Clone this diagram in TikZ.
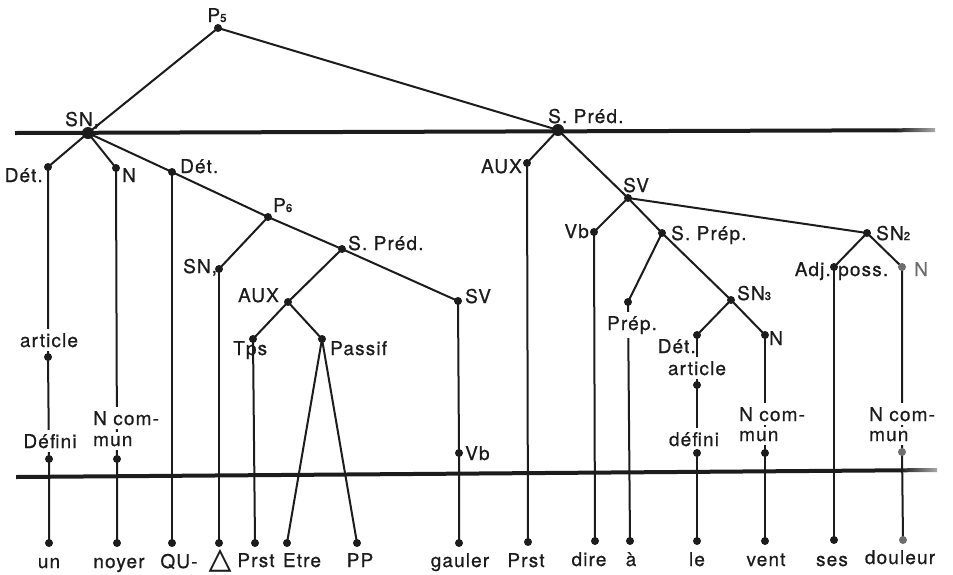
\documentclass[tikz,border=0pt]{standalone}
\usepackage{fontspec}
\setmainfont[LetterSpace=6, FakeBold=0.7]{TeX Gyre Heros}
\newfontfamily\symfont[FakeBold=0.7]{DejaVu Sans}
\definecolor{ink}{HTML}{1C1C1C}
\definecolor{pale}{HTML}{6E6E6E}
\newcommand\sub[1]{{\fontsize{11.5}{11.5}\selectfont #1}}
\begin{document}
\begin{tikzpicture}[x=1pt,y=-1pt,
  stem/.style={draw=ink, line width=2pt},
  lbl/.style={anchor=base, inner sep=0pt, font=\fontsize{19}{20}\selectfont, text=ink},
  gap/.style={lbl, fill=white, inner xsep=1pt, inner ysep=4pt},
]
\useasboundingbox[fill=white] (0,0) rectangle (953,574);

% the two level bars
\fill[ink] (15,131) -- (895,128.3) -- (895,132.3) -- (15,135) -- cycle;
\shade[left color=ink, right color=pale!60] (895,128.3) -- (935,128) -- (935,132) -- (895,132.3) -- cycle;
\fill[ink] (16,475) -- (900,468.3) -- (900,472.3) -- (16,479) -- cycle;
\shade[left color=ink, right color=pale!60] (900,468.3) -- (937,468) -- (937,472) -- (900,472.3) -- cycle;

% tree points
\coordinate (p5) at (218,28);
\coordinate (sn) at (88,133);
\coordinate (spa) at (558,130);
\coordinate (detA) at (48,167);
\coordinate (nA) at (116,168);
\coordinate (detB) at (172,172);
\coordinate (p6) at (268,217);
\coordinate (snB) at (219,269);
\coordinate (spb) at (342,249);
\coordinate (auxB) at (288,302);
\coordinate (svB) at (458,301);
\coordinate (tps) at (253,339);
\coordinate (passif) at (322,339);
\coordinate (artA) at (48,357);
\coordinate (defA) at (49,459);
\coordinate (ncA) at (117,459);
\coordinate (vbB) at (459,453);
\coordinate (auxC) at (527,163);
\coordinate (svC) at (628,198);
\coordinate (vbC) at (594,232);
\coordinate (sprep) at (662,233);
\coordinate (sn2) at (867,233);
\coordinate (adj) at (834,267);
\coordinate (nD) at (902,267);
\coordinate (prep) at (628,302);
\coordinate (sn3) at (731,300);
\coordinate (detE) at (697,335);
\coordinate (nE) at (765,335);
\coordinate (artE) at (697,385);
\coordinate (defE) at (697,453);
\coordinate (ncE) at (765,453);
\coordinate (ncD) at (902,452);
% terminal points
\coordinate (wun) at (49,543);
\coordinate (wnoyer) at (117,543);
\coordinate (wqu) at (172,543);
\coordinate (wtri) at (219,543);
\coordinate (wprstA) at (255,543);
\coordinate (wetre) at (287,543);
\coordinate (wpp) at (357,543);
\coordinate (wgauler) at (459,543);
\coordinate (wprstB) at (528,542);
\coordinate (wdire) at (595,541);
\coordinate (wa) at (630,541);
\coordinate (wle) at (697,541);
\coordinate (wvent) at (765,541);
\coordinate (wses) at (834,540);
\coordinate (wdouleur) at (903,540);

% branches
\draw[stem] (p5) -- (sn);
\draw[stem] (p5) -- (spa);
\draw[stem] (sn) -- (detA);
\draw[stem] (sn) -- (nA);
\draw[stem] (sn) -- (detB);
\draw[stem] (detB) -- (p6);
\draw[stem] (p6) -- (snB);
\draw[stem] (p6) -- (spb);
\draw[stem] (spb) -- (svB);
\draw[stem] (spb) -- (auxB);
\draw[stem] (auxB) -- (tps);
\draw[stem] (auxB) -- (passif);
\draw[stem] (tps) -- (wprstA);
\draw[stem] (passif) -- (wetre);
\draw[stem] (passif) -- (wpp);
\draw[stem] (snB) -- (wtri);
\draw[stem] (detB) -- (wqu);
\draw[stem] (svB) -- (vbB) -- (wgauler);
\draw[stem] (detA) -- (artA) -- (defA) -- (wun);
\draw[stem] (nA) -- (ncA) -- (wnoyer);
\draw[stem] (spa) -- (auxC);
\draw[stem] (spa) -- (svC);
\draw[stem] (auxC) -- (wprstB);
\draw[stem] (svC) -- (vbC);
\draw[stem] (svC) -- (sprep);
\draw[stem] (svC) -- (sn2);
\draw[stem] (vbC) -- (wdire);
\draw[stem] (sprep) -- (prep);
\draw[stem] (sprep) -- (sn3);
\draw[stem] (prep) -- (wa);
\draw[stem] (sn3) -- (detE);
\draw[stem] (sn3) -- (nE);
\draw[stem] (detE) -- (artE) -- (defE) -- (wle);
\draw[stem] (nE) -- (ncE) -- (wvent);
\draw[stem] (sn2) -- (adj);
\draw[stem] (sn2) -- (nD);
\draw[stem] (adj) -- (wses);
\draw[stem] (nD) -- (ncD) -- (wdouleur);

% category labels
\node[lbl] (lp5) at (217,22) {P\sub{5}};
\node[lbl, anchor=base west] (lsn) at (65,126) {SN,};
\node[lbl, anchor=base east] (ldetA) at (43,182) {Dét.};
\node[lbl, anchor=base west] (lnA) at (122,182) {N};
\node[lbl, anchor=base west] (ldetB) at (180,173) {Dét.};
\node[lbl, anchor=base west] (lp6) at (273,212) {P\sub{6}};
\node[lbl, anchor=base west] (lsnB) at (183,273) {SN,};
\node[lbl, anchor=base west] (lspb) at (348,250) {S. Préd.};
\node[lbl, anchor=base east] (lauxB) at (279,302) {AUX};
\node[lbl, anchor=base west] (lsvB) at (465,303) {SV};
\node[lbl, anchor=base west] (ltps) at (233,355) {Tps};
\node[lbl, anchor=base west] (lpassif) at (330,355) {Passif};
\node[gap] (lartA) at (49,347) {article};
\node[gap] (ldefA) at (50,448) {Défini};
\node[gap, anchor=base west] (lncA) at (92,425) {N com-};
\node[gap, anchor=base west] (lmunA) at (92,446) {mun};
\node[lbl, anchor=base west] (lvbB) at (465,460) {Vb};
\node[lbl, anchor=base west] (lspa) at (548,123) {S. Préd.};
\node[lbl, anchor=base east] (lauxC) at (522,173) {AUX};
\node[lbl, anchor=base west] (lsvC) at (623,192) {SV};
\node[lbl, anchor=base east] (lvbC) at (589,238) {Vb};
\node[lbl, anchor=base west] (lsprep) at (671,240) {S. Prép.};
\node[lbl, anchor=base west] (lsn2) at (876,240) {SN\sub{2}};
\node[lbl, anchor=base east] (ladj) at (831,276) {Adj.};
\node[lbl, anchor=base west] (lposs) at (838,276) {poss.};
\node[lbl, anchor=base west, text=pale] (lnD) at (914,276) {N};
\node[lbl, anchor=base west] (lsn3) at (737,300) {SN\sub{3}};
\node[gap] (lprep) at (632,330) {Prép.};
\node[lbl, anchor=base east] (ldetE) at (696,353) {Dét.};
\node[gap] (lartE) at (697,375) {article};
\node[lbl, anchor=base west] (lnE) at (769,345) {N};
\node[gap] (ldefE) at (694,446) {défini};
\node[gap, anchor=base west] (lncE) at (738,421) {N com-};
\node[gap, anchor=base west] (lmunE) at (738,441) {mun};
\node[gap, anchor=base west] (lncD) at (868,421) {N com-};
\node[gap, anchor=base west] (lmunD) at (868,441) {mun};

% terminal string
\node[lbl] (tun) at (49,568) {un};
\node[lbl] (tnoyer) at (119,568) {noyer};
\node[lbl] (tqu) at (179,568) {QU-};
\node[lbl] (ttri) at (220,568) {\symfont\fontsize{29}{29}\selectfont △};
\node[lbl] (tprstA) at (256,567) {Prst};
\node[lbl] (tetre) at (302,567) {Etre};
\node[lbl] (tpp) at (360,567) {PP};
\node[lbl] (tgauler) at (460,567) {gauler};
\node[lbl] (tprstB) at (526,567) {Prst};
\node[lbl] (tdire) at (589,566) {dire};
\node[lbl] (ta) at (631,566) {à};
\node[lbl] (tle) at (697,566) {le};
\node[lbl] (tvent) at (766,566) {vent};
\node[lbl] (tses) at (832,566) {ses};
\node[lbl] (tdouleur) at (900,564) {douleur};

% dots
\foreach \p in {sn,spa} \fill[ink] (\p) circle (6);
\foreach \p in {p5,detA,nA,detB,p6,snB,spb,auxB,svB,tps,passif,artA,defA,ncA,vbB,
  auxC,svC,vbC,sprep,sn2,adj,prep,sn3,detE,nE,artE,defE,ncE,
  wun,wnoyer,wqu,wtri,wprstA,wetre,wpp,wgauler,wprstB,wdire,wa,wle,wvent,wses}
  \fill[ink] (\p) circle (4);
\foreach \p in {nD,ncD,wdouleur} \fill[pale] (\p) circle (4);
\end{tikzpicture}
\end{document}
